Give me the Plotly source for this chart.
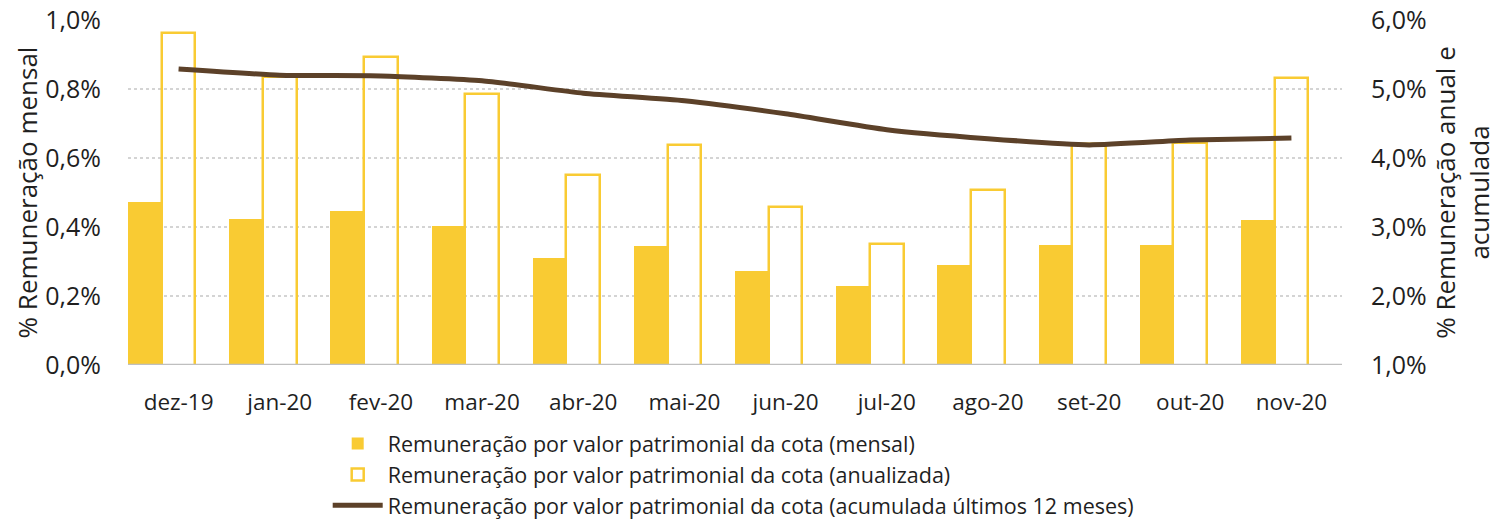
import plotly.graph_objects as go

categories = ["dez-19", "jan-20", "fev-20", "mar-20", "abr-20", "mai-20",
              "jun-20", "jul-20", "ago-20", "set-20", "out-20", "nov-20"]
mensal = [0.472, 0.423, 0.446, 0.403, 0.310, 0.345, 0.272, 0.229, 0.290, 0.348, 0.348, 0.420]
anualizada = [5.81, 5.17, 5.46, 4.93, 3.75, 4.19, 3.29, 2.75, 3.54, 4.20, 4.22, 5.16]
acumulada = [5.29, 5.20, 5.19, 5.12, 4.94, 4.83, 4.64, 4.41, 4.28, 4.19, 4.26, 4.29]

names = ["Remuneração por valor patrimonial da cota (mensal)",
         "Remuneração por valor patrimonial da cota (anualizada)",
         "Remuneração por valor patrimonial da cota (acumulada últimos 12 meses)"]

YELLOW = "#F9CB33"
BROWN = "#5C4129"
FONT = "Open Sans"
TXT = "#1F1F1F"

fig = go.Figure()
fig.add_trace(go.Bar(x=categories, y=mensal, name=names[0], yaxis="y",
                     marker=dict(color=YELLOW, line=dict(width=0)),
                     width=1/3, offset=-0.5))
fig.add_trace(go.Bar(x=categories, y=anualizada, name=names[1], yaxis="y2",
                     marker=dict(color="rgba(255,255,255,0)", line=dict(color=YELLOW, width=2.5)),
                     width=1/3, offset=-1/6))
fig.add_trace(go.Scatter(x=categories, y=acumulada, name=names[2], yaxis="y2",
                         mode="lines", line=dict(color=BROWN, width=5, shape="spline", smoothing=0.5)))

fig.update_layout(
    width=1505, height=520,
    margin=dict(l=128, r=163, t=20, b=155, autoexpand=False),
    paper_bgcolor="white", plot_bgcolor="white",
    separators=",.",
    font=dict(family=FONT, size=22, color=TXT),
    barmode="overlay", bargap=0,
    xaxis=dict(type="category", showgrid=False, ticks="", showline=False,
               tickfont=dict(size=22.5, color=TXT), range=[-0.5, 11.5],
               ticklabelstandoff=21),
    yaxis=dict(range=[0, 1.0], dtick=0.2, tickformat=".1f", ticksuffix="%",
               showgrid=True, gridcolor="#D4D4D4", griddash="dot", gridwidth=1.5,
               zeroline=False, showline=False, ticks="",
               tickfont=dict(size=25, color=TXT), ticklabelstandoff=26,
               title=dict(text="% Remuneração mensal", font=dict(size=26, color=TXT), standoff=0)),
    yaxis2=dict(range=[1.0, 6.0], dtick=1.0, tickformat=".1f", ticksuffix="%",
                overlaying="y", side="right", showgrid=False, zeroline=False,
                showline=False, ticks="",
                tickfont=dict(size=25, color=TXT), ticklabelstandoff=28,
                title=dict(text="% Remuneração anual e<br>acumulada", font=dict(size=26, color=TXT), standoff=10)),
    legend=dict(x=0.1645, y=-0.168, xanchor="left", yanchor="top", orientation="v",
                font=dict(size=21.5, color=TXT), traceorder="normal",
                tracegroupgap=0, itemwidth=50),
    showlegend=True,
)

fig.add_shape(type="line", xref="paper", yref="y", x0=0, x1=1, y0=0, y1=0,
              line=dict(color="#BFBFBF", width=2.5), layer="above")

fig.write_html("out.html", config={"displayModeBar": False},
               post_script="document.body.style.margin='0';document.body.style.padding='0';")
